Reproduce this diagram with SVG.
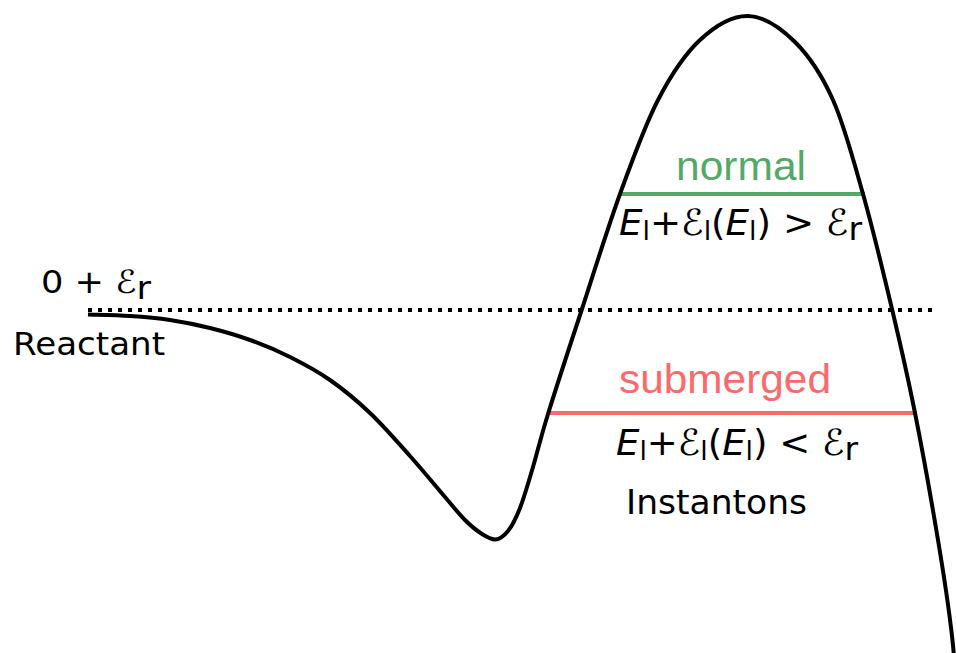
<svg xmlns="http://www.w3.org/2000/svg" width="956" height="653" viewBox="0 0 956 653">
<style>
.dv{font-family:"DejaVu Sans",sans-serif;fill:#000}
.ar{font-family:"Liberation Sans",Arial,sans-serif}
.it{font-style:italic}
.curve{fill:none;stroke:#000;stroke-width:4;stroke-linecap:butt;stroke-linejoin:round}
.dots{fill:none;stroke:#000;stroke-width:4;stroke-dasharray:4 6}
</style>
<rect width="956" height="653" fill="#fff"/>
<g id="levels">
<line x1="619" y1="194" x2="865" y2="194" stroke="#55a868" stroke-width="4"/>
<line x1="547" y1="413" x2="917" y2="413" stroke="#fa6a6a" stroke-width="4"/>
</g>
<g id="reference-line">
<line class="dots" x1="88" y1="310" x2="936" y2="310"/>
</g>
<g id="curve">
<path class="curve" d="M88,314.5 C95,314.75 116.33,315.08 130,316 C143.67,316.92 156.67,318 170,320 C183.33,322 196.67,324.67 210,328 C223.33,331.33 236.67,335.17 250,340 C263.33,344.83 276.67,350.33 290,357 C303.33,363.67 316.67,370.67 330,380 C343.33,389.33 356.67,400.33 370,413 C383.33,425.67 397.5,442 410,456 C422.5,470 435.83,486.33 445,497 C454.17,507.67 458.83,513.83 465,520 C471.17,526.17 477,530.83 482,534 C487,537.17 490.67,539.5 495,539.5 C499.33,539.5 503.83,536.17 508,531 C512.17,525.83 515.83,518.67 520,508 C524.17,497.33 528.33,482.67 533,467 C537.67,451.33 539.83,440.33 548,414 C556.17,387.67 570,345.33 582,309 C594,272.33 607.33,228.83 620,194 C632.67,159.17 644.67,125.67 658,100 C671.33,74.33 685,54 700,40 C715,26 732.17,15.67 748,16 C763.83,16.33 780.83,28 795,42 C809.17,56 821.67,74.67 833,100 C844.33,125.33 853.17,159.17 863,194 C872.83,228.83 883.33,272.5 892,309 C900.67,345.5 907.33,374.5 915,413 C922.67,451.5 931.33,500 938,540 C944.67,580 951,620 954,656"/>
</g>
<g id="label-reactant">
<text class="dv" font-size="32" x="41" y="293" textLength="110" lengthAdjust="spacingAndGlyphs">0 + ℰ<tspan dy="6">r</tspan></text>
<text class="dv" font-size="32" x="13" y="355" textLength="152" lengthAdjust="spacingAndGlyphs">Reactant</text>
</g>
<g id="label-normal">
<text class="ar" font-size="41" fill="#55a868" x="676" y="180" textLength="130" lengthAdjust="spacingAndGlyphs">normal</text>
<text class="dv" font-size="36" x="619" y="235" textLength="243" lengthAdjust="spacingAndGlyphs"><tspan class="it">E</tspan><tspan font-size="26" dy="5">l</tspan><tspan dy="-5">+ℰ</tspan><tspan font-size="26" dy="5">l</tspan><tspan dy="-5">(</tspan><tspan class="it">E</tspan><tspan font-size="26" dy="5">l</tspan><tspan dy="-5">) &gt; ℰ</tspan><tspan font-size="32" dy="5">r</tspan></text>
</g>
<g id="label-submerged">
<text class="ar" font-size="41" fill="#fa6a6a" x="619" y="393" textLength="212" lengthAdjust="spacingAndGlyphs">submerged</text>
<text class="dv" font-size="36" x="616" y="455" textLength="242" lengthAdjust="spacingAndGlyphs"><tspan class="it">E</tspan><tspan font-size="26" dy="5">l</tspan><tspan dy="-5">+ℰ</tspan><tspan font-size="26" dy="5">l</tspan><tspan dy="-5">(</tspan><tspan class="it">E</tspan><tspan font-size="26" dy="5">l</tspan><tspan dy="-5">) &lt; ℰ</tspan><tspan font-size="32" dy="5">r</tspan></text>
<text class="dv" font-size="33" x="626" y="514" textLength="181" lengthAdjust="spacingAndGlyphs">Instantons</text>
</g>
</svg>
